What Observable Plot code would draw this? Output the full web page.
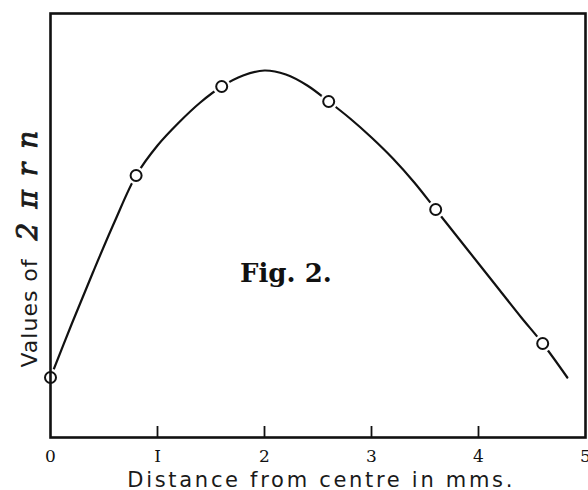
<!DOCTYPE html>
<html>
<head>
<meta charset="utf-8">
<script src="https://cdn.jsdelivr.net/npm/d3@7"></script>
<script src="https://cdn.jsdelivr.net/npm/@observablehq/plot@0.6"></script>
<style>
  html, body { margin: 0; padding: 0; background: #fff; }
  .xticks text { font-family: "DejaVu Serif", serif; font-size: 17px; fill: #111; }
</style>
</head>
<body>
<div id="chart"></div>
<script>
// Measured points (circles)
const pointX = [0, 0.8, 1.6, 2.6, 3.6, 4.6];
const pointY = [6.0, 26.2, 35.1, 33.6, 22.8, 9.4];

// Drawn smooth curve
const curveX = [0, 0.2, 0.4, 0.6, 0.8, 1.0, 1.2, 1.4, 1.6, 1.8, 2.0, 2.2, 2.4, 2.6, 2.8, 3.0, 3.2, 3.4, 3.6, 3.8, 4.0, 4.2, 4.4, 4.6, 4.83];
const curveY = [6.0, 11.4, 16.6, 21.6, 26.2, 29.2, 31.5, 33.5, 35.1, 36.2, 36.7, 36.3, 35.2, 33.6, 31.9, 30.0, 27.9, 25.5, 22.8, 20.1, 17.4, 14.7, 12.0, 9.4, 6.0];

// Axis ticks and labels
const tickValues = [0, 1, 2, 3, 4, 5];
const tickLabels = ["0", "I", "2", "3", "4", "5"];

const xLabel = "Distance from centre in mms.";
const yLabelPlain = "Values of";
const yLabelMath = "2πrn";
const figLabel = "Fig. 2.";

const points = pointX.map((x, i) => ({x, y: pointY[i]}));
const curve = curveX.map((x, i) => ({x, y: curveY[i]}));

const plot = Plot.plot({
  width: 588,
  height: 490,
  marginLeft: 50,
  marginRight: 3,
  marginTop: 13,
  marginBottom: 53,
  x: {domain: [0, 5], axis: null},
  y: {domain: [0, 42.4], axis: null},
  style: {background: "#fff"},
  marks: [
    Plot.line(curve, {x: "x", y: "y", curve: "catmull-rom", stroke: "#111", strokeWidth: 2.2}),
    Plot.dot(points, {x: "x", y: "y", r: 9, fill: "#fff", stroke: "none"}),
    Plot.dot(points, {x: "x", y: "y", r: 5.5, fill: "#fff", stroke: "#111", strokeWidth: 2}),
    Plot.ruleX(tickValues.slice(1, 5), {y1: 0, y2: 1.1, stroke: "#111", strokeWidth: 1.8}),
    Plot.frame({stroke: "#111", strokeWidth: 2.6}),
    Plot.axisX(tickValues, {
      className: "xticks",
      tickSize: 0,
      tickPadding: 12,
      tickFormat: (d) => tickLabels[tickValues.indexOf(d)],
      label: null
    }),
    Plot.text([figLabel], {
      x: 2.2, y: 15.6, text: (d) => d,
      fontFamily: "DejaVu Serif", fontSize: 26, fontWeight: "bold",
      fill: "#111", textAnchor: "middle", lineAnchor: "bottom"
    }),
    Plot.text([xLabel], {
      className: "xlab",
      x: 2.53, y: -4.9, text: (d) => d,
      fontFamily: "DejaVu Sans", fontSize: 21,
      fill: "#1a1a1a", textAnchor: "middle", lineAnchor: "bottom"
    }),
    Plot.text([yLabelPlain + " " + yLabelMath], {
      className: "ylab",
      x: -0.13, y: 7.0, text: (d) => d, rotate: -90,
      fontFamily: "DejaVu Sans", fontSize: 22,
      fill: "#1a1a1a", textAnchor: "start", lineAnchor: "bottom"
    })
  ]
});

document.getElementById("chart").appendChild(plot);

// Wide hand-lettered spacing for the x label
d3.select(plot).select("g.xlab text").attr("letter-spacing", "2.7px");

// Mixed styling for the y label: plain sans words, italic serif math
const yText = d3.select(plot).select("g.ylab text");
yText.text(null);
yText.append("tspan").attr("letter-spacing", "1px").text(yLabelPlain + " ");
yText.append("tspan")
  .attr("font-family", "DejaVu Serif")
  .attr("font-style", "italic")
  .attr("font-size", 28)
  .attr("stroke", "#1a1a1a")
  .attr("stroke-width", 0.9)
  .attr("letter-spacing", "14px")
  .attr("dx", "10")
  .text(yLabelMath);
</script>
</body>
</html>
